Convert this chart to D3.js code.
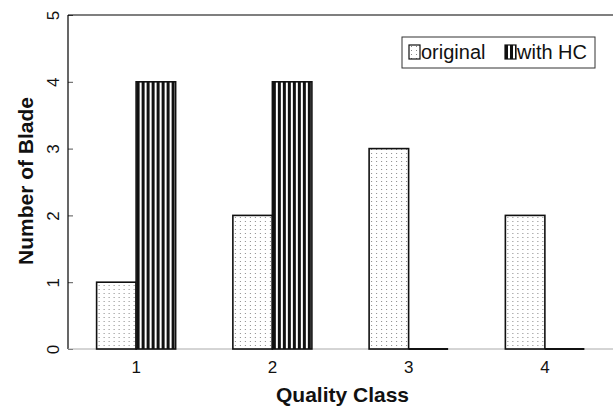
<!DOCTYPE html>
<html>
<head>
<meta charset="utf-8">
<script src="https://cdn.jsdelivr.net/npm/d3@7"></script>
<style>
  body { margin: 0; background: #fff; overflow: hidden; }
  svg { display: block; }
  text { font-family: "Liberation Sans", Arial, sans-serif; }
</style>
</head>
<body>
<script>
// data
var categories = ["1", "2", "3", "4"];
var seriesNames = ["original", "with HC"];
var original = [1, 2, 3, 2];
var withHC = [4, 4, 0, 0];
var yTicks = [0, 1, 2, 3, 4, 5];

var w = 613, h = 408;
var plotL = 68, plotR = 613, plotT = 15, plotB = 349;

var svg = d3.select("body").append("svg")
    .attr("width", w)
    .attr("height", h);

var defs = svg.append("defs");

// dotted fill for "original"
var dots = defs.append("pattern")
    .attr("id", "dots")
    .attr("patternUnits", "userSpaceOnUse")
    .attr("width", 5)
    .attr("height", 4);
dots.append("rect").attr("width", 5).attr("height", 4).attr("fill", "#fff");
dots.append("rect").attr("x", 2).attr("y", 1).attr("width", 1).attr("height", 1).attr("fill", "#888");

// vertical stripes for "with HC"
var stripes = defs.append("pattern")
    .attr("id", "stripes")
    .attr("patternUnits", "userSpaceOnUse")
    .attr("width", 5)
    .attr("height", 10);
stripes.append("rect").attr("width", 5).attr("height", 10).attr("fill", "#fff");
stripes.append("rect").attr("width", 3).attr("height", 10).attr("fill", "#111");

var fills = ["url(#dots)", "url(#stripes)"];

var x = d3.scaleBand()
    .domain(categories)
    .range([plotL, plotR])
    .paddingInner(0.42)
    .paddingOuter(0.21);

var xSub = d3.scaleBand()
    .domain(seriesNames)
    .range([0, x.bandwidth()]);

var y = d3.scaleLinear()
    .domain([0, 5])
    .range([plotB, plotT]);

var rows = categories.map(function(c, i) {
    return { cat: c, vals: [original[i], withHC[i]] };
});

// y axis, ticks pointing into the plot
var yAxis = d3.axisLeft(y).tickValues(yTicks).tickSize(-5).tickFormat(d3.format("d"));
var ya = svg.append("g")
    .attr("transform", "translate(" + plotL + ",0)")
    .call(yAxis);
ya.select(".domain").remove();
ya.selectAll(".tick line").attr("stroke", "#555");
// rotated labels read bottom to top
ya.selectAll(".tick text")
    .attr("font-size", 17)
    .attr("fill", "#111")
    .attr("text-anchor", "middle")
    .attr("dy", 0)
    .attr("transform", "rotate(-90)")
    .attr("x", 0)
    .attr("y", -9);

// x axis labels only
var xAxis = d3.axisBottom(x).tickSize(0).tickPadding(12);
var xa = svg.append("g")
    .attr("transform", "translate(0," + plotB + ")")
    .call(xAxis);
xa.select(".domain").remove();
xa.selectAll(".tick text").attr("font-size", 17).attr("fill", "#111");

// left axis line, gray baseline and top line
svg.append("line")
    .attr("x1", plotL).attr("x2", plotL)
    .attr("y1", y(0)).attr("y2", y(5))
    .attr("stroke", "#000").attr("stroke-width", 1.2);
svg.append("line")
    .attr("x1", plotL).attr("x2", plotR)
    .attr("y1", y(0)).attr("y2", y(0))
    .attr("stroke", "#aaa").attr("stroke-width", 1);
svg.append("line")
    .attr("x1", plotL).attr("x2", plotR)
    .attr("y1", y(5)).attr("y2", y(5))
    .attr("stroke", "#000").attr("stroke-width", 1.2);

// bars
var groups = svg.selectAll(".grp")
    .data(rows)
    .enter().append("g")
    .attr("class", "grp")
    .attr("transform", function(d) { return "translate(" + x(d.cat) + ",0)"; });

var barData = function(d) {
    return d.vals.map(function(v, j) { return { v: v, s: seriesNames[j], j: j }; });
};

groups.selectAll("rect")
    .data(function(d) { return barData(d).filter(function(b) { return b.v > 0; }); })
    .enter().append("rect")
    .attr("x", function(d) { return xSub(d.s); })
    .attr("width", xSub.bandwidth())
    .attr("y", function(d) { return y(d.v); })
    .attr("height", function(d) { return y(0) - y(d.v); })
    .attr("fill", function(d) { return fills[d.j]; })
    .attr("stroke", "#111")
    .attr("stroke-width", 1.6);

// zero-height bars show as a flat black line on the baseline
groups.selectAll("line.zero")
    .data(function(d) { return barData(d).filter(function(b) { return b.v === 0; }); })
    .enter().append("line")
    .attr("class", "zero")
    .attr("x1", function(d) { return xSub(d.s); })
    .attr("x2", function(d) { return xSub(d.s) + xSub.bandwidth(); })
    .attr("y1", y(0)).attr("y2", y(0))
    .attr("stroke", "#111")
    .attr("stroke-width", 2);

// axis titles
svg.append("text")
    .attr("x", (plotL + plotR) / 2 + 2)
    .attr("y", 402)
    .attr("text-anchor", "middle")
    .attr("font-size", 21)
    .attr("font-weight", "bold")
    .attr("fill", "#111")
    .text("Quality Class");

svg.append("text")
    .attr("transform", "translate(33,181) rotate(-90)")
    .attr("text-anchor", "middle")
    .attr("font-size", 21)
    .attr("font-weight", "bold")
    .attr("fill", "#111")
    .text("Number of Blade");

// legend
var legend = svg.append("g").attr("transform", "translate(402,37)");
legend.append("rect")
    .attr("width", 193).attr("height", 31)
    .attr("fill", "#fff").attr("stroke", "#333").attr("stroke-width", 1);
var legX = [7, 103];
var items = legend.selectAll(".item")
    .data(seriesNames)
    .enter().append("g")
    .attr("class", "item")
    .attr("transform", function(d, i) { return "translate(" + legX[i] + ",8)"; });
items.append("rect")
    .attr("width", 11).attr("height", 14)
    .attr("fill", function(d, i) { return fills[i]; })
    .attr("stroke", "#111").attr("stroke-width", 1.2);
items.append("text")
    .attr("x", 12).attr("y", 14)
    .attr("font-size", 20)
    .attr("fill", "#111")
    .text(function(d) { return d; });
</script>
</body>
</html>
